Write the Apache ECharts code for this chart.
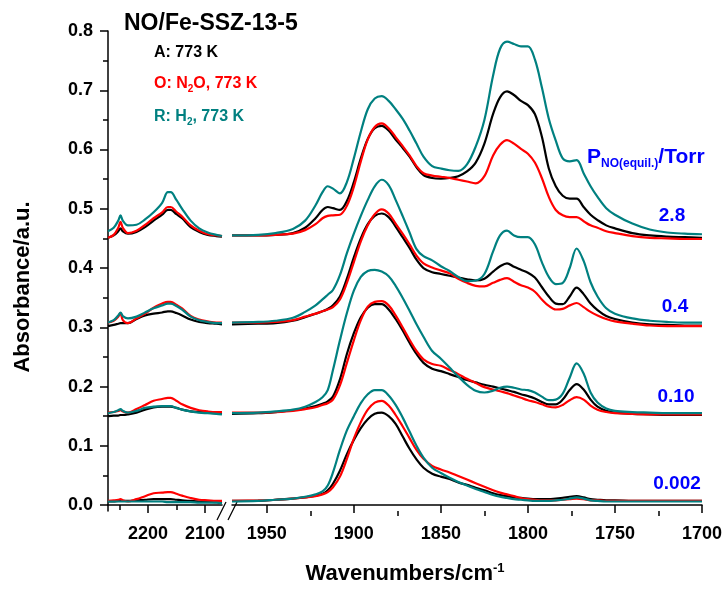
<!DOCTYPE html>
<html>
<head>
<meta charset="utf-8">
<script src="https://cdn.jsdelivr.net/npm/echarts@6/dist/echarts.min.js"></script>
<style>
  html, body { margin: 0; background: #fff; }
  #c { width: 725px; height: 589px; }
</style>
</head>
<body>
<div id="c"></div>
<script>
// wavenumber samples, cm-1 (left = 2270..2070, right = 1970..1700)
const wnLo = [2270, 2260, 2252, 2248, 2244, 2235, 2220, 2205, 2190, 2175, 2165, 2160, 2150, 2140, 2125, 2110, 2095, 2080, 2070]
const wnHi = [1970, 1955, 1945, 1935, 1928, 1922, 1918, 1915, 1912, 1908, 1904, 1900, 1896, 1892, 1888, 1884, 1880, 1876, 1872, 1868,
  1864, 1860, 1855, 1850, 1845, 1840, 1835, 1830, 1825, 1820, 1816, 1812, 1808, 1804, 1800, 1796, 1792, 1788, 1784, 1780,
  1776, 1772, 1768, 1764, 1760, 1755, 1750, 1740, 1730, 1720, 1710, 1700]

// P = 2.8 Torr
const A28lo = [0.451, 0.455, 0.462, 0.467, 0.462, 0.458, 0.461, 0.469, 0.480, 0.490, 0.498, 0.498, 0.491, 0.484, 0.469, 0.461, 0.456, 0.454, 0.453]
const A28hi = [0.455, 0.455, 0.456, 0.459, 0.468, 0.484, 0.498, 0.503, 0.501, 0.498, 0.513, 0.545, 0.585, 0.618, 0.636, 0.640, 0.632, 0.617, 0.603, 0.588,
  0.570, 0.557, 0.552, 0.551, 0.552, 0.555, 0.563, 0.578, 0.610, 0.660, 0.688, 0.698, 0.692, 0.682, 0.675, 0.660, 0.622, 0.568, 0.538, 0.522,
  0.517, 0.517, 0.503, 0.490, 0.481, 0.472, 0.467, 0.459, 0.455, 0.453, 0.452, 0.451]
const O28lo = [0.451, 0.456, 0.468, 0.478, 0.468, 0.459, 0.463, 0.473, 0.484, 0.494, 0.503, 0.503, 0.495, 0.487, 0.472, 0.463, 0.457, 0.455, 0.454]
const O28hi = [0.455, 0.455, 0.456, 0.458, 0.464, 0.474, 0.484, 0.488, 0.489, 0.490, 0.505, 0.537, 0.580, 0.617, 0.638, 0.644, 0.636, 0.621, 0.606, 0.590,
  0.572, 0.560, 0.556, 0.554, 0.552, 0.549, 0.546, 0.543, 0.555, 0.590, 0.608, 0.616, 0.610, 0.601, 0.593, 0.578, 0.552, 0.520, 0.498, 0.489,
  0.486, 0.486, 0.479, 0.472, 0.468, 0.462, 0.459, 0.454, 0.451, 0.450, 0.449, 0.449]
const R28lo = [0.462, 0.468, 0.480, 0.489, 0.480, 0.472, 0.473, 0.482, 0.494, 0.510, 0.528, 0.528, 0.515, 0.500, 0.480, 0.467, 0.460, 0.456, 0.454]
const R28hi = [0.455, 0.456, 0.459, 0.466, 0.480, 0.506, 0.528, 0.538, 0.534, 0.526, 0.545, 0.585, 0.630, 0.668, 0.686, 0.690, 0.682, 0.668, 0.652, 0.632,
  0.610, 0.588, 0.572, 0.568, 0.565, 0.564, 0.575, 0.605, 0.650, 0.725, 0.770, 0.782, 0.778, 0.774, 0.774, 0.752, 0.705, 0.652, 0.615, 0.585,
  0.580, 0.582, 0.560, 0.538, 0.520, 0.501, 0.490, 0.475, 0.465, 0.460, 0.458, 0.457]

// P = 0.4 Torr
const A04lo = [0.302, 0.304, 0.306, 0.307, 0.307, 0.307, 0.314, 0.320, 0.323, 0.325, 0.327, 0.327, 0.324, 0.320, 0.313, 0.309, 0.307, 0.306, 0.305]
const A04hi = [0.305, 0.306, 0.307, 0.311, 0.317, 0.323, 0.327, 0.331, 0.337, 0.352, 0.382, 0.418, 0.450, 0.474, 0.488, 0.492, 0.486, 0.470, 0.452, 0.434,
  0.414, 0.400, 0.393, 0.390, 0.387, 0.384, 0.381, 0.379, 0.382, 0.394, 0.403, 0.408, 0.402, 0.397, 0.392, 0.384, 0.368, 0.352, 0.340, 0.339,
  0.352, 0.367, 0.356, 0.340, 0.329, 0.319, 0.314, 0.308, 0.305, 0.304, 0.303, 0.303]
const O04lo = [0.308, 0.311, 0.318, 0.324, 0.312, 0.307, 0.315, 0.323, 0.333, 0.340, 0.343, 0.343, 0.338, 0.332, 0.319, 0.313, 0.310, 0.308, 0.308]
const O04hi = [0.308, 0.308, 0.309, 0.312, 0.318, 0.323, 0.327, 0.330, 0.334, 0.347, 0.375, 0.410, 0.445, 0.472, 0.491, 0.499, 0.492, 0.475, 0.458, 0.440,
  0.421, 0.408, 0.401, 0.396, 0.391, 0.382, 0.375, 0.370, 0.369, 0.375, 0.380, 0.383, 0.377, 0.371, 0.367, 0.360, 0.347, 0.336, 0.330, 0.331,
  0.337, 0.341, 0.334, 0.326, 0.320, 0.314, 0.310, 0.306, 0.303, 0.302, 0.302, 0.302]
const R04lo = [0.308, 0.312, 0.320, 0.325, 0.319, 0.315, 0.318, 0.325, 0.332, 0.337, 0.340, 0.340, 0.336, 0.330, 0.318, 0.312, 0.309, 0.307, 0.307]
const R04hi = [0.308, 0.309, 0.311, 0.316, 0.326, 0.337, 0.347, 0.355, 0.363, 0.388, 0.425, 0.458, 0.488, 0.515, 0.538, 0.549, 0.540, 0.515, 0.488, 0.460,
  0.432, 0.420, 0.413, 0.403, 0.395, 0.385, 0.378, 0.379, 0.390, 0.428, 0.455, 0.463, 0.455, 0.452, 0.452, 0.440, 0.410, 0.385, 0.373, 0.375,
  0.400, 0.433, 0.412, 0.376, 0.352, 0.332, 0.323, 0.315, 0.311, 0.309, 0.308, 0.308]

// P = 0.10 Torr
const A010lo = [0.150, 0.151, 0.151, 0.152, 0.152, 0.153, 0.156, 0.161, 0.165, 0.166, 0.166, 0.166, 0.164, 0.161, 0.158, 0.157, 0.156, 0.155, 0.155]
const A010hi = [0.154, 0.155, 0.157, 0.160, 0.163, 0.167, 0.171, 0.175, 0.183, 0.212, 0.255, 0.290, 0.317, 0.333, 0.339, 0.339, 0.330, 0.314, 0.295, 0.274,
  0.255, 0.240, 0.230, 0.226, 0.221, 0.216, 0.211, 0.207, 0.203, 0.200, 0.197, 0.194, 0.191, 0.187, 0.184, 0.180, 0.174, 0.170, 0.170, 0.178,
  0.194, 0.204, 0.195, 0.178, 0.166, 0.159, 0.156, 0.154, 0.153, 0.152, 0.152, 0.152]
const O010lo = [0.156, 0.157, 0.159, 0.160, 0.158, 0.156, 0.162, 0.169, 0.176, 0.179, 0.181, 0.181, 0.176, 0.170, 0.164, 0.160, 0.158, 0.157, 0.157]
const O010hi = [0.156, 0.156, 0.157, 0.159, 0.162, 0.165, 0.169, 0.172, 0.178, 0.202, 0.240, 0.278, 0.312, 0.335, 0.343, 0.344, 0.337, 0.320, 0.300, 0.279,
  0.260, 0.246, 0.238, 0.235, 0.228, 0.221, 0.213, 0.206, 0.199, 0.195, 0.192, 0.189, 0.185, 0.181, 0.177, 0.174, 0.170, 0.166, 0.165, 0.169,
  0.177, 0.182, 0.178, 0.168, 0.161, 0.157, 0.155, 0.154, 0.153, 0.153, 0.153, 0.153]
const R010lo = [0.155, 0.157, 0.160, 0.162, 0.159, 0.156, 0.159, 0.164, 0.166, 0.167, 0.167, 0.167, 0.164, 0.161, 0.158, 0.156, 0.155, 0.154, 0.153]
const R010hi = [0.155, 0.156, 0.158, 0.161, 0.166, 0.174, 0.182, 0.194, 0.228, 0.278, 0.324, 0.362, 0.385, 0.395, 0.397, 0.394, 0.386, 0.370, 0.350, 0.328,
  0.305, 0.284, 0.260, 0.247, 0.232, 0.217, 0.203, 0.193, 0.190, 0.193, 0.198, 0.200, 0.198, 0.195, 0.194, 0.190, 0.183, 0.177, 0.178, 0.188,
  0.215, 0.239, 0.222, 0.190, 0.173, 0.163, 0.159, 0.157, 0.156, 0.155, 0.155, 0.155]

// P = 0.002 Torr
const A0002lo = [0.006, 0.006, 0.007, 0.007, 0.007, 0.007, 0.008, 0.009, 0.010, 0.010, 0.010, 0.010, 0.009, 0.008, 0.007, 0.006, 0.006, 0.005, 0.005]
const A0002hi = [0.007, 0.007, 0.009, 0.011, 0.013, 0.016, 0.019, 0.025, 0.036, 0.058, 0.086, 0.110, 0.130, 0.145, 0.154, 0.156, 0.150, 0.137, 0.116, 0.095,
  0.077, 0.063, 0.053, 0.048, 0.044, 0.038, 0.034, 0.029, 0.025, 0.020, 0.017, 0.015, 0.013, 0.012, 0.011, 0.010, 0.010, 0.010, 0.011, 0.012,
  0.014, 0.015, 0.013, 0.010, 0.009, 0.008, 0.008, 0.007, 0.007, 0.007, 0.007, 0.007]
const O0002lo = [0.007, 0.008, 0.009, 0.010, 0.008, 0.006, 0.010, 0.015, 0.020, 0.021, 0.022, 0.022, 0.019, 0.016, 0.012, 0.009, 0.008, 0.007, 0.007]
const O0002hi = [0.007, 0.008, 0.009, 0.011, 0.013, 0.015, 0.018, 0.022, 0.030, 0.048, 0.078, 0.112, 0.140, 0.161, 0.173, 0.176, 0.168, 0.152, 0.133, 0.113,
  0.093, 0.078, 0.066, 0.060, 0.055, 0.049, 0.043, 0.037, 0.031, 0.025, 0.021, 0.018, 0.015, 0.012, 0.010, 0.009, 0.008, 0.008, 0.008, 0.009,
  0.010, 0.011, 0.010, 0.008, 0.008, 0.007, 0.007, 0.007, 0.007, 0.007, 0.007, 0.007]
const R0002lo = [0.006, 0.006, 0.006, 0.006, 0.006, 0.006, 0.006, 0.006, 0.006, 0.006, 0.005, 0.005, 0.005, 0.005, 0.005, 0.004, 0.004, 0.004, 0.003]
const R0002hi = [0.006, 0.007, 0.009, 0.011, 0.014, 0.018, 0.023, 0.033, 0.055, 0.093, 0.126, 0.150, 0.172, 0.187, 0.194, 0.194, 0.185, 0.169, 0.148, 0.124,
  0.100, 0.080, 0.063, 0.054, 0.046, 0.039, 0.033, 0.027, 0.022, 0.017, 0.014, 0.012, 0.010, 0.009, 0.008, 0.007, 0.007, 0.007, 0.008, 0.009,
  0.011, 0.013, 0.011, 0.008, 0.007, 0.006, 0.006, 0.006, 0.006, 0.006, 0.006, 0.006]

// tick labels
const yMajor = [0, 0.1, 0.2, 0.3, 0.4, 0.5, 0.6, 0.7, 0.8]
const yMinor = [0.05, 0.15, 0.25, 0.35, 0.45, 0.55, 0.65, 0.75]
const xLoMajor = [2200, 2100]
const xLoMinor = [2250, 2150]
const xHiMajor = [1950, 1900, 1850, 1800, 1750, 1700]
const xHiMinor = [1925, 1875, 1825, 1775, 1725]
const pressures = ['2.8', '0.4', '0.10', '0.002']

const BLACK = '#000000', RED = '#ff0000', TEAL = '#008080', BLUE = '#0000ff'
const FONT = '"Liberation Sans", Arial, sans-serif'

const curves = [
  [A28lo, A28hi, BLACK], [O28lo, O28hi, RED], [R28lo, R28hi, TEAL],
  [A04lo, A04hi, BLACK], [O04lo, O04hi, RED], [R04lo, R04hi, TEAL],
  [A010lo, A010hi, BLACK], [O010lo, O010hi, RED], [R010lo, R010hi, TEAL],
  [A0002lo, A0002hi, BLACK], [O0002lo, O0002hi, RED], [R0002lo, R0002hi, TEAL]
]

const chart = echarts.init(document.getElementById('c'))

const tickLabel = { color: '#000', fontSize: 18, fontWeight: 'bold', fontFamily: FONT }
const axLine = { lineStyle: { color: '#000', width: 1.5 } }

function xMajor(grid, min, max, vals) {
  return {
    type: 'value', gridIndex: grid, min, max, inverse: true, position: 'bottom',
    axisLine: axLine, splitLine: { show: false },
    axisTick: { customValues: vals, length: 8, lineStyle: { color: '#000', width: 1.5 } },
    axisLabel: { ...tickLabel, customValues: vals, margin: 14, formatter: v => String(v) }
  }
}
function xMinorAx(grid, min, max, vals) {
  return {
    type: 'value', gridIndex: grid, min, max, inverse: true, position: 'bottom',
    axisLine: { show: false }, splitLine: { show: false }, axisLabel: { show: false },
    axisTick: { customValues: vals, length: 5, lineStyle: { color: '#000', width: 1.5 } }
  }
}

const series = []
curves.forEach(([lo, hi, color]) => {
  const common = {
    type: 'line', showSymbol: false, smooth: 0.35, silent: true,
    lineStyle: { color, width: 2.2 }
  }
  series.push({ ...common, xAxisIndex: 0, yAxisIndex: 0, data: wnLo.map((w, i) => [w, lo[i]]) })
  series.push({ ...common, xAxisIndex: 2, yAxisIndex: 2, data: wnHi.map((w, i) => [w, hi[i]]) })
})

const pressY = [216, 307, 397, 484]
const pressX = [672, 675, 676, 677]

chart.setOption({
  animation: false,
  grid: [
    { left: 108, top: 31, width: 114, bottom: 78 },
    { left: 232, top: 31, right: 23, bottom: 78 }
  ],
  xAxis: [
    xMajor(0, 2070, 2270, xLoMajor), xMinorAx(0, 2070, 2270, xLoMinor),
    xMajor(1, 1700, 1970, xHiMajor), xMinorAx(1, 1700, 1970, xHiMinor)
  ],
  yAxis: [
    {
      type: 'value', gridIndex: 0, min: -0.01, max: 0.8, position: 'left',
      axisLine: { show: true, ...axLine }, splitLine: { show: false },
      axisTick: { customValues: yMajor, length: 8, lineStyle: { color: '#000', width: 1.5 } },
      axisLabel: { ...tickLabel, customValues: yMajor, margin: 15, formatter: v => v.toFixed(1) }
    },
    {
      type: 'value', gridIndex: 0, min: -0.01, max: 0.8, position: 'left',
      axisLine: { show: false }, splitLine: { show: false }, axisLabel: { show: false },
      axisTick: { customValues: yMinor, length: 5, lineStyle: { color: '#000', width: 1.5 } }
    },
    { type: 'value', gridIndex: 1, min: -0.01, max: 0.8, show: false }
  ],
  series,
  graphic: [
    // axis break marks
    { type: 'line', shape: { x1: 217, y1: 520, x2: 226, y2: 502 }, style: { stroke: '#000', lineWidth: 1.3 } },
    { type: 'line', shape: { x1: 228, y1: 520, x2: 237, y2: 502 }, style: { stroke: '#000', lineWidth: 1.3 } },
    {
      type: 'text', x: 124, y: 24,
      style: { text: 'NO/Fe-SSZ-13-5', font: 'bold 23px ' + FONT, fill: BLACK, verticalAlign: 'middle' }
    },
    {
      type: 'text', x: 154, y: 53,
      style: { text: 'A: 773 K', font: 'bold 16px ' + FONT, fill: BLACK, verticalAlign: 'middle' }
    },
    {
      type: 'text', x: 154, y: 84,
      style: {
        text: '{n|O: N}{s|2}{n|O, 773 K}', fill: RED, verticalAlign: 'middle',
        rich: {
          n: { font: 'bold 16px ' + FONT, fill: RED },
          s: { font: 'bold 10px ' + FONT, fill: RED, padding: [10, 0, 0, 0] }
        }
      }
    },
    {
      type: 'text', x: 154, y: 117,
      style: {
        text: '{n|R: H}{s|2}{n|, 773 K}', fill: TEAL, verticalAlign: 'middle',
        rich: {
          n: { font: 'bold 16px ' + FONT, fill: TEAL },
          s: { font: 'bold 10px ' + FONT, fill: TEAL, padding: [10, 0, 0, 0] }
        }
      }
    },
    {
      type: 'text', x: 587, y: 157,
      style: {
        text: '{n|P}{s|NO(equil.)}{n|/Torr}', fill: BLUE, verticalAlign: 'middle',
        rich: {
          n: { font: 'bold 21px ' + FONT, fill: BLUE },
          s: { font: 'bold 12px ' + FONT, fill: BLUE, padding: [14, 0, 0, 0] }
        }
      }
    },
    ...pressures.map((p, i) => ({
      type: 'text', x: pressX[i], y: pressY[i],
      style: { text: p, font: 'bold 19px ' + FONT, fill: BLUE, align: 'center', verticalAlign: 'middle' }
    })),
    {
      type: 'text', x: 23, y: 287, rotation: Math.PI / 2,
      style: { text: 'Absorbance/a.u.', font: 'bold 22px ' + FONT, fill: BLACK, align: 'center', verticalAlign: 'middle' }
    },
    {
      type: 'text', x: 405, y: 574,
      style: {
        text: '{n|Wavenumbers/cm}{p|-1}', fill: BLACK, align: 'center', verticalAlign: 'middle',
        rich: {
          n: { font: 'bold 22px ' + FONT, fill: BLACK },
          p: { font: 'bold 13px ' + FONT, fill: BLACK, padding: [0, 0, 12, 0] }
        }
      }
    }
  ]
})
</script>
</body>
</html>
